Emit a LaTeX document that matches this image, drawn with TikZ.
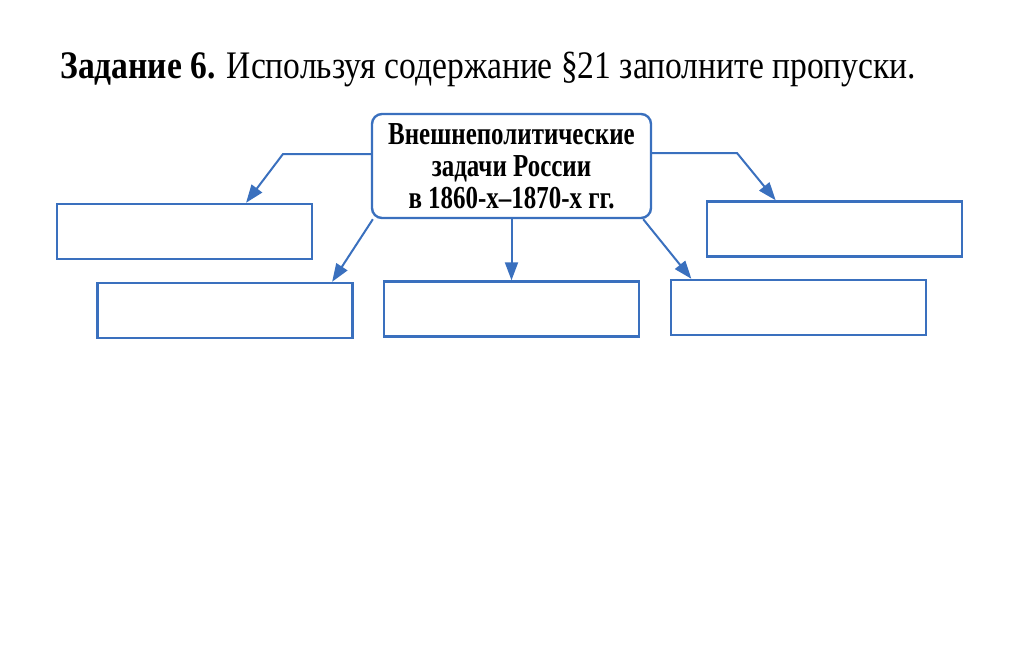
\documentclass[tikz,border=0pt]{standalone}
\usepackage{fontspec}
\setmainfont[FakeStretch=0.86]{Liberation Serif}
\newfontfamily\boxfont[FakeStretch=0.78]{Liberation Serif}
\usetikzlibrary{arrows.meta,calc}

\definecolor{frameblue}{RGB}{58,112,190}

\begin{document}
\begin{tikzpicture}[x=0.5pt,y=-0.5pt]
    % Styling
    \tikzset{
        taskbox/.style={draw=frameblue, line width=1.2pt, rounded corners=5pt,
            minimum width=139.5pt, minimum height=52pt, align=center,
            font=\boxfont\bfseries\fontsize{16}{16}\selectfont, inner sep=0pt},
        answerbox/.style={draw=frameblue, line width=1.2pt,
            minimum width=127.5pt, minimum height=27.5pt, inner sep=0pt},
        link/.style={draw=frameblue, line width=1pt,
            -{Triangle[length=9pt, width=6.5pt]}}
    }

    % Frame of the page
    \useasboundingbox (0,0) rectangle (1024,649);

    % Title
    \node[anchor=base west, inner sep=0pt, font=\fontsize{19.5}{22}\selectfont]
        (title) at (60,78) {\textbf{Задание 6.} Используя содержание §21 заполните пропуски.};

    % Main box
    \node[taskbox] (task) at (511.5,166)
        {Внешнеполитические\\задачи России\\в 1860-х–1870-х гг.};

    % Empty boxes
    \node[answerbox] (ans1) at (184.5,231.5) {};
    \node[answerbox] (ans2) at (225,310.5) {};
    \node[answerbox] (ans3) at (511.5,309) {};
    \node[answerbox] (ans4) at (834.5,229) {};
    \node[answerbox] (ans5) at (798.5,307.5) {};

    % Bends
    \coordinate (lbend) at (283,154);
    \coordinate (rbend) at (737,153);

    % Arrows
    \draw[link] (task.west |- lbend) -- (lbend) -- (ans1.25);
    \draw[link] (task.201) -- (ans2.15);
    \draw[link] (task.south) -- (ans3.north);
    \draw[link] (task.338) -- (ans5.165);
    \draw[link] (task.east |- rbend) -- (rbend) -- (ans4.154);
\end{tikzpicture}
\end{document}
